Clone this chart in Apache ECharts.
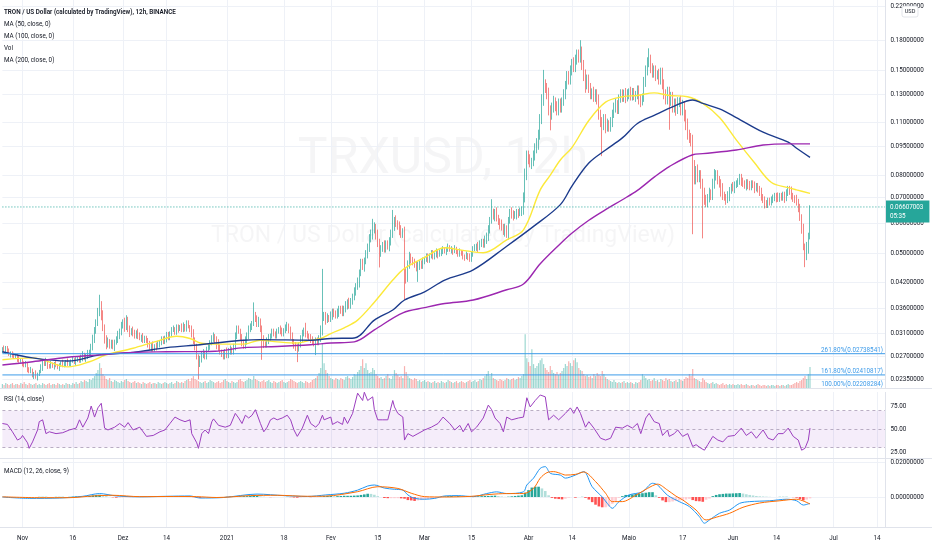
<!DOCTYPE html>
<html><head><meta charset="utf-8">
<script src="https://cdn.jsdelivr.net/npm/echarts/dist/echarts.min.js"></script>
<style>html,body{margin:0;padding:0;background:#fff}#c{width:932px;height:550px}</style>
</head><body><div id="c"></div>
<script>
// ---------------- DATA ----------------
// 12h candles of TRX/USD from 2020-10-26 00:00 to 2021-06-24 00:00; open = previous close
const firstOpen = 0.0278;
const closes = [
0.0282,0.0279,0.0284,0.0277,0.0273,0.0275,0.0270,0.0268,0.0271,0.0266,
0.0262,0.0264,0.0259,0.0255,0.0257,0.0250,0.0246,0.0248,0.0240,0.0243,
0.0238,0.0242,0.0246,0.0252,0.0260,0.0257,0.0262,0.0255,0.0253,0.0257,
0.0254,0.0258,0.0255,0.0252,0.0256,0.0259,0.0255,0.0258,0.0261,0.0257,
0.0259,0.0262,0.0264,0.0260,0.0263,0.0266,0.0262,0.0267,0.0270,0.0266,
0.0268,0.0272,0.0275,0.0285,0.0298,0.0315,0.0330,0.0350,0.0368,0.0345,
0.0320,0.0300,0.0290,0.0296,0.0288,0.0292,0.0287,0.0295,0.0298,0.0305,
0.0312,0.0325,0.0330,0.0322,0.0335,0.0318,0.0312,0.0316,0.0310,0.0306,
0.0312,0.0305,0.0300,0.0304,0.0298,0.0302,0.0295,0.0290,0.0286,0.0289,
0.0283,0.0287,0.0285,0.0290,0.0294,0.0298,0.0296,0.0302,0.0306,0.0303,
0.0310,0.0315,0.0318,0.0313,0.0320,0.0317,0.0322,0.0318,0.0324,0.0319,
0.0328,0.0322,0.0318,0.0308,0.0296,0.0285,0.0270,0.0258,0.0265,0.0272,
0.0276,0.0270,0.0280,0.0286,0.0294,0.0300,0.0305,0.0298,0.0290,0.0284,
0.0278,0.0274,0.0270,0.0276,0.0272,0.0278,0.0282,0.0278,0.0285,0.0305,
0.0318,0.0315,0.0302,0.0292,0.0288,0.0295,0.0305,0.0318,0.0322,0.0330,
0.0345,0.0338,0.0328,0.0335,0.0318,0.0300,0.0292,0.0290,0.0296,0.0302,
0.0306,0.0312,0.0310,0.0306,0.0312,0.0318,0.0314,0.0310,0.0316,0.0320,
0.0325,0.0316,0.0305,0.0296,0.0288,0.0284,0.0283,0.0290,0.0300,0.0310,
0.0314,0.0308,0.0306,0.0302,0.0298,0.0295,0.0292,0.0296,0.0294,0.0300,
0.0315,0.0340,0.0345,0.0336,0.0342,0.0338,0.0346,0.0352,0.0348,0.0345,
0.0352,0.0358,0.0355,0.0350,0.0358,0.0368,0.0372,0.0366,0.0375,0.0385,
0.0396,0.0410,0.0420,0.0445,0.0470,0.0462,0.0478,0.0495,0.0520,0.0545,
0.0560,0.0575,0.0585,0.0560,0.0530,0.0505,0.0515,0.0525,0.0518,0.0530,
0.0522,0.0535,0.0560,0.0590,0.0610,0.0598,0.0588,0.0575,0.0560,0.0570,
0.0450,0.0430,0.0470,0.0490,0.0480,0.0475,0.0468,0.0458,0.0462,0.0470,
0.0465,0.0478,0.0485,0.0490,0.0482,0.0495,0.0500,0.0492,0.0498,0.0505,
0.0495,0.0502,0.0508,0.0512,0.0505,0.0515,0.0520,0.0510,0.0512,0.0506,
0.0515,0.0508,0.0500,0.0505,0.0498,0.0492,0.0488,0.0496,0.0490,0.0485,
0.0500,0.0512,0.0518,0.0525,0.0520,0.0530,0.0535,0.0528,0.0540,0.0550,
0.0575,0.0610,0.0635,0.0625,0.0640,0.0618,0.0605,0.0595,0.0585,0.0570,
0.0580,0.0560,0.0610,0.0640,0.0635,0.0628,0.0632,0.0640,0.0638,0.0645,
0.0650,0.0700,0.0800,0.0900,0.0880,0.0855,0.0870,0.0900,0.0940,0.0960,
0.1020,0.1120,0.1250,0.1380,0.1350,0.1300,0.1180,0.1150,0.1200,0.1250,
0.1210,0.1180,0.1230,0.1200,0.1250,0.1300,0.1380,0.1450,0.1420,0.1500,
0.1560,0.1530,0.1600,0.1650,0.1620,0.1680,0.1550,0.1450,0.1380,0.1420,
0.1350,0.1300,0.1320,0.1280,0.1300,0.1260,0.1150,0.1100,0.1080,0.1120,
0.1060,0.1090,0.1070,0.1100,0.1150,0.1200,0.1230,0.1190,0.1260,0.1300,
0.1280,0.1310,0.1270,0.1300,0.1320,0.1290,0.1310,0.1280,0.1300,0.1330,
0.1260,0.1240,0.1280,0.1400,0.1500,0.1560,0.1600,0.1520,0.1480,0.1500,
0.1450,0.1470,0.1420,0.1480,0.1380,0.1300,0.1260,0.1320,0.1250,0.1280,
0.1200,0.1230,0.1190,0.1240,0.1250,0.1180,0.1220,0.1150,0.1080,0.1020,
0.1000,0.0980,0.0850,0.0780,0.0820,0.0790,0.0800,0.0760,0.0720,0.0690,
0.0680,0.0700,0.0720,0.0710,0.0760,0.0790,0.0800,0.0780,0.0765,0.0740,
0.0710,0.0700,0.0690,0.0705,0.0730,0.0745,0.0740,0.0755,0.0760,0.0770,
0.0790,0.0765,0.0760,0.0752,0.0765,0.0750,0.0745,0.0760,0.0755,0.0740,
0.0748,0.0735,0.0720,0.0700,0.0690,0.0675,0.0670,0.0685,0.0680,0.0690,
0.0698,0.0705,0.0700,0.0695,0.0705,0.0700,0.0710,0.0698,0.0720,0.0735,
0.0725,0.0705,0.0695,0.0690,0.0680,0.0660,0.0620,0.0580,0.0520,0.0495,
0.0520,0.0555,0.06607003
];
// upper / lower shadow of each candle, in % of the body edge
const wickHi = [
1,2,1,1,2,1,1,2,1,1,2,1,1,1,2,1,1,2,1,1,
2,1,1,2,1,1,2,1,1,2,1,1,2,1,1,1,2,1,1,2,
1,1,2,1,2,1,1,2,3,2,2,3,2,2,3,2,2,3,6,2,
3,2,2,2,1,2,2,1,2,3,2,2,2,3,3,2,2,1,2,2,
1,2,2,1,2,1,1,2,2,1,2,1,2,2,1,2,2,1,2,2,
1,2,2,1,2,2,1,2,2,1,2,2,1,2,3,2,2,1,2,2,
2,1,2,2,1,2,2,1,2,3,2,1,2,2,3,2,2,1,2,2,
2,2,1,2,2,3,2,2,2,1,8,2,2,2,1,2,2,1,2,2,
1,2,2,1,2,1,2,2,1,2,2,1,2,2,1,2,2,1,2,2,
2,5,2,1,2,2,1,2,2,2,3,34,2,2,2,1,2,2,2,2,
2,2,2,3,2,2,2,3,2,2,3,2,3,2,3,3,2,3,2,3,
3,7,3,2,3,3,2,2,3,2,2,3,3,10,2,3,2,3,3,2,
3,2,2,3,2,2,2,2,3,2,2,2,1,2,2,1,2,2,1,2,
1,2,1,2,1,1,2,1,2,1,2,1,1,2,1,2,1,2,1,2,
1,2,2,1,2,2,2,2,3,3,3,2,9,3,2,3,2,2,3,2,
3,2,2,2,3,2,2,2,2,2,2,3,4,3,3,3,2,3,3,4,
3,3,4,9,3,3,4,3,3,3,2,3,3,3,2,3,2,3,3,3,
3,4,3,3,3,7,3,3,4,3,3,3,2,3,3,3,3,3,3,3,
3,3,2,3,3,3,3,2,3,3,3,2,3,3,2,3,3,3,2,3,
3,3,2,3,3,4,7,3,3,3,3,2,3,3,3,3,3,3,3,3,
3,3,3,3,2,3,3,2,3,4,3,3,4,3,3,4,3,3,3,3,
3,2,3,2,3,5,3,3,2,2,3,2,2,3,2,2,3,2,2,2,
2,2,3,2,2,2,3,2,2,2,2,2,2,3,2,2,2,2,2,2,
2,2,2,3,2,2,2,2,2,2,2,3,2,2,3,2,2,2,3,2,
3,2,1
];
const wickLo = [
1,1,2,1,1,2,1,1,1,2,1,1,2,1,1,2,1,1,1,2,
1,2,1,1,2,1,1,2,1,1,1,2,1,1,2,1,1,1,2,1,
1,2,1,1,2,1,1,1,2,1,2,1,1,2,2,2,2,2,2,3,
2,3,3,2,2,2,2,3,2,2,2,2,2,3,2,2,3,2,2,2,
2,2,1,2,2,2,1,2,2,3,2,2,2,1,2,2,2,2,3,2,
2,2,1,2,2,2,1,2,2,2,2,1,2,2,2,2,2,9,2,2,
2,2,2,1,2,2,2,2,3,2,2,2,2,2,2,2,2,2,2,2,
2,2,2,2,2,2,2,2,2,2,2,2,2,2,2,12,3,2,2,2,
2,2,2,2,2,1,2,2,2,2,2,2,2,2,2,2,8,2,2,2,
2,2,2,2,2,2,2,7,2,2,2,3,2,3,2,2,2,3,2,2,
2,3,2,2,2,2,3,2,2,2,2,2,2,3,2,2,3,2,2,3,
2,3,2,3,2,9,3,2,3,3,2,3,2,2,3,2,2,3,2,2,
16,3,2,3,2,2,2,2,8,2,2,2,2,2,2,2,2,2,2,2,
2,1,2,2,1,2,2,1,2,2,1,2,2,2,1,2,2,1,2,2,
2,2,1,2,3,2,2,2,2,2,2,2,2,2,3,2,2,3,2,2,
3,2,3,2,3,3,2,3,3,2,3,3,3,3,3,2,3,3,3,3,
3,3,3,3,3,3,3,9,3,3,3,3,3,3,3,3,3,3,3,3,
3,3,3,3,3,3,3,3,5,3,3,3,3,3,3,3,3,3,17,3,
3,2,3,3,3,2,3,3,3,2,3,3,3,2,3,3,3,2,3,3,
3,3,2,3,3,3,2,3,3,3,3,2,3,3,3,3,3,3,16,3,
3,3,4,3,3,3,3,4,3,3,3,3,34,3,3,3,3,3,24,3,
3,3,3,3,3,3,2,3,3,5,3,2,3,2,3,2,2,3,2,2,
2,2,2,2,3,2,2,2,2,3,2,2,2,2,2,3,2,2,2,2,
2,2,3,2,2,2,2,3,2,2,2,2,2,2,2,3,2,3,2,7,
3,4,2
];
// volume per candle (relative units)
const volumes = [
4,3,5,4,3,4,5,3,4,4,3,5,4,6,4,3,5,4,3,4,
5,3,4,3,5,4,3,4,5,3,4,4,3,5,4,3,4,3,5,4,
4,3,5,4,6,4,5,7,6,8,7,6,9,8,10,12,15,18,25,20,
14,12,9,8,10,7,6,8,7,6,5,7,6,8,9,7,6,5,6,7,
5,6,5,4,6,5,4,5,6,4,5,5,4,6,5,4,5,6,5,4,
5,6,4,5,7,6,5,6,5,7,8,9,7,10,12,9,8,7,6,5,
6,7,5,6,8,7,6,5,6,7,5,6,8,9,7,6,5,7,6,5,
6,8,9,7,6,7,8,10,9,8,12,9,8,7,6,7,8,6,7,8,
6,5,7,6,5,6,7,8,6,5,6,7,9,8,7,6,5,6,7,6,
5,7,6,5,6,8,9,10,12,15,20,45,25,18,15,12,10,9,8,10,
9,8,10,9,8,11,12,10,9,11,14,13,16,18,22,29,20,25,18,15,
16,20,18,14,12,10,11,9,10,12,14,10,9,12,18,15,13,11,12,10,
22,16,12,10,9,8,10,9,7,8,6,7,8,6,7,6,5,6,7,5,
6,5,7,6,5,6,8,7,6,5,6,7,5,6,7,6,5,6,7,8,
6,7,8,6,7,9,8,10,12,14,17,12,15,10,9,8,7,9,8,7,
8,10,9,8,9,10,8,9,11,10,12,14,54,30,26,22,39,24,20,22,
25,28,30,24,20,18,16,22,18,15,14,16,13,15,17,20,24,22,27,25,
22,28,30,26,20,18,17,14,12,13,11,12,10,14,12,15,13,12,17,14,
11,9,8,7,6,8,6,5,6,5,6,7,5,6,5,6,5,4,6,5,
6,8,14,12,10,8,9,7,8,10,7,8,6,9,8,7,10,8,9,7,
6,7,8,6,9,8,7,9,11,10,14,12,19,10,9,8,7,6,10,8,
6,5,4,5,6,4,5,4,3,4,5,3,4,3,4,3,4,3,3,4,
3,4,3,3,4,3,2,3,3,2,3,4,3,2,3,3,2,3,2,3,
3,2,3,3,2,3,3,2,3,4,3,3,4,5,6,5,7,8,10,12,
9,14,21
];
// moving averages: [day since 2020-11-01, price]
const ma50Pts = [[-6,0.0264],[3.1,0.0267],[13.3,0.0253],[20.1,0.0261],[25.2,0.0272],[33,0.0283],[40,0.0295],[46,0.0304],[50,0.0300],[53,0.0292],[57.4,0.0290],[62,0.0290],[65.8,0.0290],[70.9,0.0297],[76,0.0294],[82,0.0292],[85.8,0.0297],[88.8,0.0300],[91.8,0.0309],[96,0.0320],[100,0.0335],[105.2,0.0373],[110.3,0.0426],[114.1,0.0457],[120.1,0.0488],[126,0.0517],[131,0.0510],[137.5,0.0502],[144.6,0.0542],[149.4,0.0576],[154.4,0.0732],[157.5,0.0800],[160.4,0.0876],[163.9,0.0945],[168.8,0.1110],[173.8,0.1240],[178.8,0.1280],[183.7,0.1290],[188.7,0.1310],[193.2,0.1290],[198.3,0.1280],[203.1,0.1230],[208.2,0.1130],[213.2,0.0988],[218.3,0.0860],[223.3,0.0765],[228.3,0.0742],[231.1,0.0732],[235,0.0717]];
const ma100Pts = [[-6,0.0277],[3.1,0.0267],[13.3,0.0262],[23,0.0272],[33,0.0276],[43,0.0284],[53,0.0289],[57.4,0.0292],[65.8,0.0297],[71,0.0298],[85.8,0.0297],[91.8,0.0300],[99.2,0.0301],[105.2,0.0335],[110.3,0.0356],[114.1,0.0378],[120.1,0.0397],[126,0.0426],[134.4,0.0453],[144.6,0.0522],[152.3,0.0588],[160.4,0.0670],[163.9,0.0750],[168.8,0.0860],[173.8,0.0930],[178.8,0.1000],[183.7,0.1090],[188.7,0.1145],[194.7,0.1210],[200.1,0.1256],[203.1,0.1230],[208,0.1190],[213.2,0.1130],[221,0.1035],[228.3,0.0975],[231.1,0.0940],[235,0.0890]];
const ma200Pts = [[-6,0.0256],[3.1,0.0261],[13.3,0.0268],[23,0.0272],[33,0.0276],[43,0.0277],[57.4,0.0278],[65.8,0.0284],[76,0.0286],[85.8,0.0289],[91.8,0.0292],[99.2,0.0294],[105.2,0.0316],[113.3,0.0350],[120.1,0.0361],[126,0.0370],[134.4,0.0378],[144.6,0.0402],[149.4,0.0416],[154.4,0.0470],[160.4,0.0530],[163.9,0.0565],[168.8,0.0610],[173.8,0.0650],[178.8,0.0690],[183.7,0.0730],[188.7,0.0790],[193.2,0.0842],[200.1,0.0904],[203.1,0.0910],[213.2,0.0930],[221,0.0958],[228.3,0.0965],[235,0.0965]];
// RSI(14): [day, value]
const rsiPts = [[-6,56],[-4.6,55],[-3,47],[-1.6,38],[-0.7,40],[0,43],[1.3,35],[2.2,29],[3.2,36],[4.3,49],[5.2,58],[6,60],[7,45],[8.2,47],[10,45],[12,46],[14,49],[16,51],[17,60],[18,52],[19.6,62],[20.7,75],[21.7,63],[22.5,73],[23.7,78],[24.6,51],[25.5,49],[27.6,52],[29,56],[30.3,52],[31.5,57],[33,49],[35,52],[37,42],[39,43],[41,47],[42.5,49],[44,56],[45.5,63],[47,60],[48.5,58],[49.8,60],[50.5,45],[52,35],[52.4,29],[53.5,45],[54.5,49],[55.4,45],[56.5,58],[57,61],[58.5,54],[60.5,52],[62,54],[63.4,67],[64.3,62],[65.5,56],[66.4,65],[67.4,62],[68.4,65],[69.7,71],[70.9,56],[71.8,47],[72.8,52],[73.9,60],[74.9,62],[75.9,60],[77.4,62],[78.9,65],[79.9,60],[80.9,49],[82,42],[83.4,51],[84.8,65],[85.8,56],[87.3,52],[88.3,56],[89.4,65],[90.2,60],[91.8,63],[92.5,55],[94,58],[95.5,55],[96.2,63],[97,56],[98.6,67],[100,89],[101.3,81],[102.2,90],[103.2,81],[104.3,85],[105.2,71],[106.2,60],[107.3,60],[109,60],[110.3,81],[111.2,74],[112,67],[113.3,63],[114.1,38],[115,45],[116.3,42],[118,45],[120,49],[122.2,52],[124,56],[124.6,54],[125.5,63],[127.6,56],[129,49],[130.6,54],[131.6,47],[133,56],[134.2,47],[135.7,52],[137.5,62],[139,76],[140,71],[141,62],[142.5,56],[143.5,47],[144.6,63],[146,60],[148,62],[149.4,63],[150.5,84],[151.7,74],[153,81],[154.4,87],[155.9,85],[157,60],[158.3,65],[160,60],[160.4,58],[161.9,67],[163.4,73],[164.4,67],[165.5,74],[166.7,67],[167.9,52],[168.8,58],[170.4,51],[172.3,40],[173.8,38],[175.3,40],[176.8,52],[178.8,51],[180.4,54],[181.9,51],[183.4,56],[184.6,45],[185.8,62],[187,67],[188.3,58],[190,56],[191.2,43],[192.6,49],[193.2,42],[194.7,45],[195.3,49],[197,42],[198.6,45],[199.8,31],[201.2,33],[202.7,29],[203.6,27],[204.5,33],[206,42],[207.5,38],[209,36],[210.5,42],[212.6,43],[214.7,51],[216.2,43],[217.7,47],[219.2,40],[221,49],[222.6,40],[224,38],[225.5,45],[227,45],[228.6,51],[230,42],[231.4,38],[232.4,27],[233.5,29],[234.4,38],[235,51]];
// MACD(12,26,9): [day, value]
const macdPts = [[-6,0],[2,-0.0008],[11,-0.0006],[18,0.0004],[23,0.002],[28,0.0006],[35,0.0001],[43,0.0004],[50,0.0006],[53,-0.0006],[60,-0.0003],[70,0.0017],[78,0.0008],[85,0.0003],[90.3,0.0012],[96.2,0.0022],[100.1,0.004],[103,0.0064],[105.2,0.007],[108.2,0.0052],[111.2,0.0045],[113.3,0.004],[115,0.0012],[117.1,-0.0008],[120,-0.0013],[123,-0.0008],[126,0.0006],[130,0.0008],[134.4,0.0002],[138.6,0.002],[141.6,0.003],[144.6,0.002],[149.4,0.003],[150.5,0.007],[152.3,0.011],[154.4,0.0167],[155.9,0.0177],[157.4,0.0138],[160.4,0.0128],[161.9,0.011],[164.9,0.0128],[167.3,0.0148],[169.9,0.006],[172.9,0],[174.4,-0.0037],[175.9,-0.0066],[177.9,-0.0027],[180.9,0.0012],[184.8,0.003],[187.8,0.008],[189.6,0.007],[192.6,0.001],[196.2,-0.0027],[199.2,-0.0056],[202.2,-0.0115],[203.6,-0.0153],[205.2,-0.0134],[208.2,-0.0095],[211.1,-0.0076],[214.1,-0.0037],[217.1,-0.0027],[223.1,-0.0022],[228.1,-0.0013],[231.1,-0.0022],[232.9,-0.0047],[235,-0.0037]];
const signalPts = [[-6,0.0001],[5,-0.0004],[14,-0.0004],[21,0.0006],[27,0.001],[35,0.0002],[45,0.0003],[52,0.0002],[58,-0.0003],[68,0.0008],[76,0.001],[85,0.0004],[90.3,0.0005],[100,0.0031],[106,0.006],[112,0.005],[116.2,0.0022],[120,0.0002],[126,0],[134,0.0004],[139.5,0.0015],[144.6,0.002],[149.4,0.002],[152.3,0.005],[154.4,0.011],[156.5,0.0142],[158.3,0.0148],[160.4,0.0138],[161.9,0.0128],[164.9,0.0132],[167.3,0.0146],[170.8,0.009],[173.8,0.0022],[176.2,-0.0027],[178.8,-0.0027],[182.8,0.001],[186.7,0.005],[189.6,0.0075],[192.6,0.004],[195,0.0005],[197.2,-0.0017],[201.2,-0.0076],[204.2,-0.0134],[207.2,-0.0118],[211.1,-0.0095],[215.1,-0.006],[220.1,-0.0035],[226.1,-0.0022],[231.1,-0.0013],[235,-0.0041]];
// MACD histogram, one value per day from day -6 to day 235 (units of 0.0001)
const histDaily = [
0,-1,-1,-2,-2,-2,-2,-1,-1,0,0,1,1,1,0,0,1,1,1,0,1,2,3,3,2,4,
6,9,12,13,9,5,
1,-2,-4,-4,-3,-2,-2,-2,-1,-1,
-1,-1,-1,0,0,1,1,1,2,2,2,2,2,1,1,
-1,-4,-6,-6,-5,-4,-3,-2,-1,0,
1,2,3,4,4,5,5,6,7,7,4,2,0,-1,-1,
0,0,0,1,-1,-3,-4,-3,-1,0,-1,-1,-1,
3,5,6,6,5,5,6,7,7,7,8,
9,12,15,19,18,13,5,0,-6,-7,-7,
-7,-7,-8,-10,-18,-20,-23,-20,-18,-15,
-12,-10,-9,-6,-2,3,5,6,5,5,
3,1,0,0,2,4,5,6,6,7,
8,6,3,1,2,4,6,8,10,25,
40,55,60,60,50,35,10,-5,-10,-12,
-14,-10,-4,0,-4,0,1,-5,-15,-30,
-45,-55,-60,-60,-55,-40,-25,-5,5,12,
12,15,18,20,22,25,28,28,10,-5,
-20,-30,-30,-26,-23,-21,-19,-15,-11,-18,
-24,-25,-28,-16,-9,5,12,16,18,20,
20,21,22,23,20,16,12,9,6,4,
3,2,1,0,0,1,1,1,0,-1,
-4,-12,-20,-15,-8
];
// axes and levels
const priceTicks = [0.22,0.18,0.15,0.13,0.11,0.095,0.08,0.07,0.06,0.05,0.042,0.036,0.031,0.027,0.0235];
const fibLevels = [0.02738541,0.02410817];
const fibLabels = ['261.80%(0.02738541)','161.80%(0.02410817)'];
const fibLastLabel = '100.00%(0.02208284)';
const lastPrice = 0.06607003, lastTime = '05:35';
const rsiTicks = [75,50,25];
const rsiBands = [70,50,30];
const macdTicks = [0.02,0];
const tickDays = [0,15,30,43,61,78,92,106,120,134,151,164,181,197,212,225,242,255];
const tickLabels = ['Nov','16','Dez','14','2021','18','Fev','15','Mar','15','Abr','14','Maio','17','Jun','14','Jul','14'];
const headerLines = ['TRON / US Dollar (calculated by TradingView), 12h, BINANCE','MA (50, close, 0)','MA (100, close, 0)','Vol','MA (200, close, 0)'];

// ---------------- BUILD ----------------
const FONT = 'Roboto, "Noto Sans", sans-serif';
const FS = 6.3;
const TXT = '#131722';
const GRIDC = '#eef1f7';
const FIBC = '#3d9be9';
const START = Date.UTC(2020, 9, 26);
const N_CATS = 528;
const cats = [];
for (let k = 0; k < N_CATS; k++) {
  const t = new Date(START + k * 43200000);
  cats.push(t.toISOString().slice(0, 16).replace('T', ' '));
}
const LASTCAT = N_CATS - 1;
const dayToIdx = d => Math.round((d + 6) * 2);
const tickIdx = {};
tickDays.forEach((d, i) => { tickIdx[dayToIdx(d)] = tickLabels[i]; });
const isTick = (i) => tickIdx[i] !== undefined;

const candles = [], vols = [];
for (let k = 0; k < closes.length; k++) {
  const o = k === 0 ? firstOpen : closes[k - 1];
  const c = closes[k];
  const h = Math.max(o, c) * (1 + (wickHi[k] ?? 2) / 100);
  const l = Math.min(o, c) * (1 - (wickLo[k] ?? 2) / 100);
  candles.push([o, c, l, h]);
  vols.push({ value: volumes[k] ?? 4, itemStyle: { color: c >= o ? 'rgba(38,166,154,0.45)' : 'rgba(239,83,80,0.45)' } });
}
const pts = arr => arr.map(([d, v]) => [dayToIdx(d), v]);
const hist = histDaily.map((v, i) => {
  const prev = i > 0 ? histDaily[i - 1] : 0;
  const col = v >= 0 ? (v >= prev ? '#26a69a' : '#b2dfdb') : (v < prev ? '#ff5252' : '#ffcdd2');
  return { value: [dayToIdx(i - 6), v * 1e-4], itemStyle: { color: col } };
});

const xAx = (gi, showLabel) => ({
  type: 'category', gridIndex: gi, data: cats, boundaryGap: false,
  axisLine: { show: gi === 2, lineStyle: { color: '#e0e3eb' } },
  axisTick: { show: false },
  axisLabel: { show: showLabel, interval: isTick, formatter: (v, i) => tickIdx[i] || '', fontFamily: FONT, fontSize: FS, color: TXT, margin: 8 },
  splitLine: { show: true, interval: isTick, lineStyle: { color: GRIDC, width: 1 } }
});
const lblStyle = { fontFamily: FONT, fontSize: FS, color: TXT };
// horizontal level drawn as a two-point line series spanning the axis, with an optional end label
const levelLine = (xi, yi, v, color, type, z, endLabel) => ({
  type: 'line', xAxisIndex: xi, yAxisIndex: yi, data: [[0, v], [LASTCAT, v]], silent: true, z: z,
  showSymbol: false, symbol: 'none', lineStyle: { color: color, width: 1, type: type }, itemStyle: { color: color },
  endLabel: endLabel || { show: false }
});

const option = {
  animation: false,
  backgroundColor: '#ffffff',
  grid: [
    { left: 2.4, right: 46.6, top: 0, height: 388 },
    { left: 2.4, right: 46.6, top: 388, height: 70 },
    { left: 2.4, right: 46.6, top: 459, height: 68 }
  ],
  xAxis: [xAx(0, false), xAx(1, false), xAx(2, true)],
  yAxis: [
    { type: 'log', logBase: 10, gridIndex: 0, position: 'right', min: 0.02229, max: 0.2288, axisLine: { show: false }, axisTick: { show: false }, axisLabel: { show: false }, splitLine: { show: false } },
    { type: 'value', gridIndex: 0, min: 0, max: 390, show: false, splitLine: { show: false } },
    { type: 'value', gridIndex: 1, min: 18.5, max: 94.6, show: false, splitLine: { show: false } },
    { type: 'value', gridIndex: 2, min: -0.0175, max: 0.02216, show: false, splitLine: { show: false } }
  ],
  graphic: [
    { type: 'text', x: 443, y: 160, z: -10, style: { text: 'TRXUSD, 12h', fill: 'rgba(120,123,134,0.075)', font: '50px ' + FONT, align: 'center', verticalAlign: 'middle', textAlign: 'center', textVerticalAlign: 'middle' } },
    { type: 'text', x: 443, y: 236, z: -10, style: { text: 'TRON / US Dollar (calculated by TradingView)', fill: 'rgba(120,123,134,0.075)', font: '23px ' + FONT, align: 'center', verticalAlign: 'middle', textAlign: 'center', textVerticalAlign: 'middle' } },
    ...headerLines.map((t, i) => ({ type: 'text', x: 4, y: [12.3, 24.3, 36.2, 48.3, 60.6][i], z: 50, style: { text: t, fill: TXT, font: (i === 0 ? '600 ' : '') + FS + 'px ' + FONT, verticalAlign: 'middle', textVerticalAlign: 'middle' } })),
    { type: 'text', x: 4, y: 399, z: 50, style: { text: 'RSI (14, close)', fill: TXT, font: FS + 'px ' + FONT, verticalAlign: 'middle', textVerticalAlign: 'middle' } },
    { type: 'text', x: 4, y: 471.5, z: 50, style: { text: 'MACD (12, 26, close, 9)', fill: TXT, font: FS + 'px ' + FONT, verticalAlign: 'middle', textVerticalAlign: 'middle' } },
    { type: 'text', x: 883, y: 384.5, z: 50, style: { text: fibLastLabel, fill: FIBC, font: FS + 'px ' + FONT, align: 'right', verticalAlign: 'middle', textAlign: 'right', textVerticalAlign: 'middle' } },
    { type: 'rect', z: 49, shape: { x: 0, y: 389, width: 932, height: 3 }, style: { fill: '#ffffff' } },
    { type: 'line', z: 40, shape: { x1: 0, y1: 388.5, x2: 932, y2: 388.5 }, style: { stroke: '#e0e3eb', lineWidth: 1.2 } },
    { type: 'line', z: 40, shape: { x1: 0, y1: 458.5, x2: 932, y2: 458.5 }, style: { stroke: '#e0e3eb', lineWidth: 1.2 } },
    { type: 'line', z: 40, shape: { x1: 0, y1: 527.5, x2: 932, y2: 527.5 }, style: { stroke: '#e0e3eb', lineWidth: 1 } },
    { type: 'line', z: 40, shape: { x1: 885.5, y1: 0, x2: 885.5, y2: 528 }, style: { stroke: '#e0e3eb', lineWidth: 1 } },
    { type: 'rect', z: 60, shape: { x: 902, y: 6, width: 16, height: 11, r: 2 }, style: { fill: '#ffffff', stroke: '#d1d4dc', lineWidth: 0.6 } },
    { type: 'text', z: 61, x: 910, y: 11.6, style: { text: 'USD', fill: TXT, font: '5.6px ' + FONT, align: 'center', verticalAlign: 'middle', textAlign: 'center', textVerticalAlign: 'middle' } }
  ],
  series: [
    { // price grid lines + price scale labels
      type: 'line', xAxisIndex: 0, yAxisIndex: 0, data: [], silent: true, z: 1,
      markLine: { silent: true, symbol: 'none', z: 1, animation: false, precision: 10,
        lineStyle: { color: GRIDC, width: 1, type: 'solid' },
        label: Object.assign({ show: true, position: 'end', distance: 5, formatter: p => Number(p.value).toFixed(8) }, lblStyle),
        data: priceTicks.map(v => ({ yAxis: v })) }
    },
    { name: 'Vol', type: 'bar', xAxisIndex: 0, yAxisIndex: 1, data: vols, barWidth: 1.2, z: 2, silent: true },
    { name: 'TRXUSD', type: 'candlestick', xAxisIndex: 0, yAxisIndex: 0, data: candles, barWidth: 1.1, z: 5,
      itemStyle: { color: '#26a69a', color0: '#ef5350', borderColor: '#26a69a', borderColor0: '#ef5350', borderWidth: 0.7 } },
    // Fibonacci levels with their labels
    ...fibLevels.map((v, i) => levelLine(0, 0, v, FIBC, 'solid', 12,
      { show: true, formatter: fibLabels[i], color: FIBC, fontFamily: FONT, fontSize: FS, align: 'right', verticalAlign: 'bottom', distance: 0, offset: [-2.5, -0.5] })),
    // last price line + tag (first text line sits on the price)
    levelLine(0, 0, lastPrice, '#26a69a', [1, 2], 13,
      { show: true, formatter: lastPrice.toFixed(8) + '\n' + lastTime, color: '#ffffff', backgroundColor: '#26a69a', padding: [2, 6, 2, 4], lineHeight: 9, fontFamily: FONT, fontSize: FS, align: 'left', verticalAlign: 'middle', distance: 0, offset: [0.5, 4.5] }),
    { name: 'MA50', type: 'line', xAxisIndex: 0, yAxisIndex: 0, data: pts(ma50Pts), smooth: 0.35, showSymbol: false, z: 7, lineStyle: { color: '#fce93a', width: 1.4 } },
    { name: 'MA100', type: 'line', xAxisIndex: 0, yAxisIndex: 0, data: pts(ma100Pts), smooth: 0.35, showSymbol: false, z: 7, lineStyle: { color: '#1c3b8c', width: 1.4 } },
    { name: 'MA200', type: 'line', xAxisIndex: 0, yAxisIndex: 0, data: pts(ma200Pts), smooth: 0.35, showSymbol: false, z: 7, lineStyle: { color: '#9c27b0', width: 1.4 } },
    { // RSI scale, bands
      type: 'line', xAxisIndex: 1, yAxisIndex: 2, data: [], silent: true, z: 1,
      markArea: { silent: true, z: 1, itemStyle: { color: 'rgba(156,80,210,0.1)' }, data: [[{ yAxis: rsiBands[2] }, { yAxis: rsiBands[0] }]] },
      markLine: { silent: true, symbol: 'none', z: 2, animation: false, precision: 4,
        data: [
          ...rsiTicks.map(v => ({ yAxis: v, lineStyle: { color: 'rgba(0,0,0,0)', width: 0 }, label: Object.assign({ show: true, position: 'end', distance: 5, formatter: v.toFixed(2) }, lblStyle) })),
          ...rsiBands.map(v => ({ yAxis: v, lineStyle: { color: '#a99bb5', width: 0.8, type: [3, 3] }, label: { show: false } }))
        ] }
    },
    { name: 'RSI', type: 'line', xAxisIndex: 1, yAxisIndex: 2, data: pts(rsiPts), showSymbol: false, z: 5, lineStyle: { color: '#9c3fbf', width: 1 } },
    { // MACD scale
      type: 'line', xAxisIndex: 2, yAxisIndex: 3, data: [], silent: true, z: 1,
      markLine: { silent: true, symbol: 'none', z: 1, animation: false, precision: 10,
        lineStyle: { color: GRIDC, width: 1, type: 'solid' },
        label: Object.assign({ show: true, position: 'end', distance: 5, formatter: p => Number(p.value).toFixed(8) }, lblStyle),
        data: macdTicks.map(v => ({ yAxis: v })) }
    },
    { name: 'Histogram', type: 'bar', xAxisIndex: 2, yAxisIndex: 3, data: hist, barWidth: 2.6, z: 3, silent: true },
    { name: 'MACD', type: 'line', xAxisIndex: 2, yAxisIndex: 3, data: pts(macdPts), smooth: 0.3, showSymbol: false, z: 5, lineStyle: { color: '#2196f3', width: 1 } },
    { name: 'Signal', type: 'line', xAxisIndex: 2, yAxisIndex: 3, data: pts(signalPts), smooth: 0.3, showSymbol: false, z: 5, lineStyle: { color: '#ff6d00', width: 1 } }
  ]
};
const chart = echarts.init(document.getElementById('c'), null, { renderer: 'canvas' });
chart.setOption(option);
</script></body></html>
